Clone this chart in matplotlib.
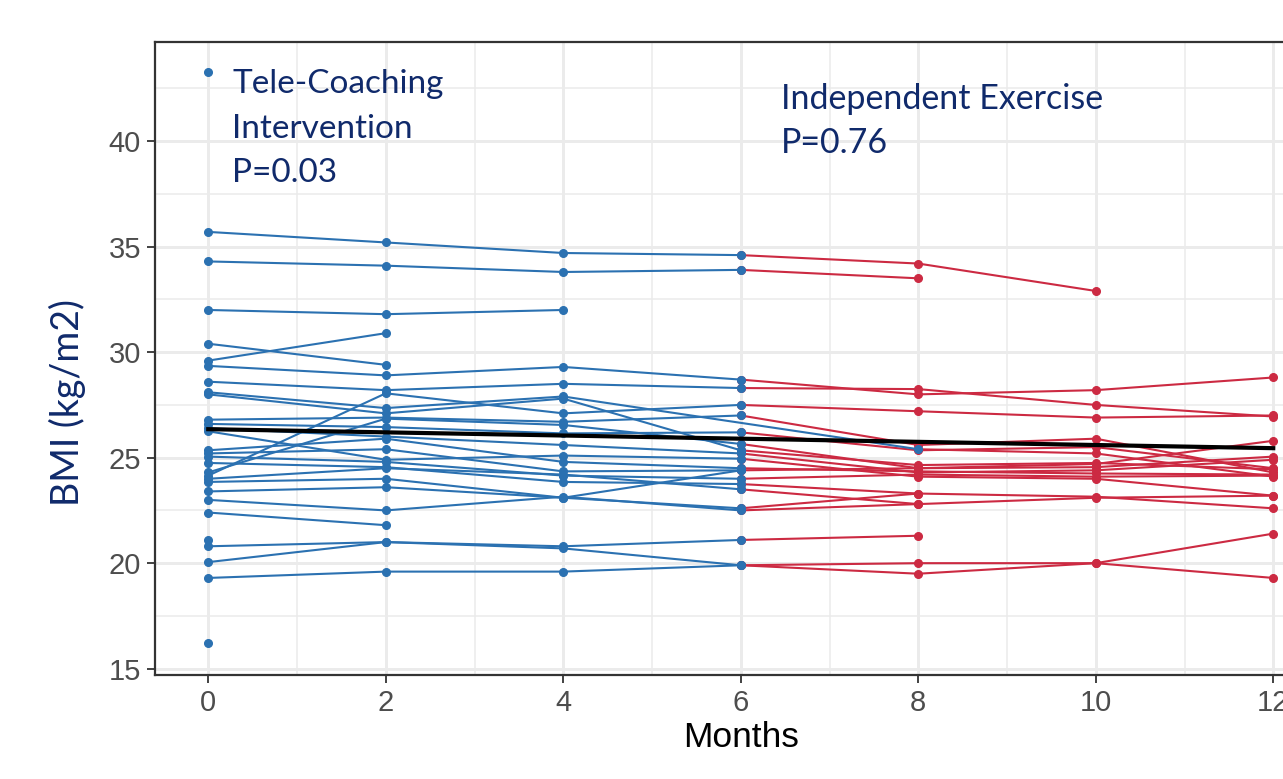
import numpy as np
import matplotlib.pyplot as plt
from matplotlib.ticker import MultipleLocator

n = np.nan
months = [0, 2, 4, 6, 8, 10, 12]

# one entry per subject, same order in every list
bmi_m0 = [43.3, 35.7, 34.3, 32.0, 30.4, 29.6, 29.35, 28.6, 28.1, 28.0, 24.15, 26.8, 26.6, 24.3, 26.4,
          26.25, 25.35, 25.2, 25.05, 24.75, 24.0, 23.85, 23.4, 23.0, 22.4, 21.1, 20.8, 20.05, 19.3, 16.2]
bmi_m2 = [n, 35.2, 34.1, 31.8, 29.4, 30.9, 28.9, 28.2, 27.35, 27.1, 28.05, 26.9, 26.45, 26.85, 26.0,
          24.9, 25.9, 25.4, 24.8, 24.55, 24.5, 24.0, 23.6, 22.5, 21.8, n, 21.0, 21.0, 19.6, n]
bmi_m4 = [n, 34.7, 33.8, 32.0, n, n, 29.3, 28.5, 27.9, 27.8, 27.1, 26.7, 26.15, 26.55, 25.6,
          25.1, 24.8, 24.35, 24.15, 23.85, 24.2, 23.1, 23.1, 23.15, n, n, 20.8, 20.7, 19.6, n]
bmi_m6 = [n, 34.6, 33.9, n, n, n, 28.7, 28.3, n, 25.35, 27.5, 27.0, 26.2, 25.65, 25.2,
          24.95, 24.5, 24.4, 24.0, 23.75, 23.5, 22.6, 24.4, 22.5, n, n, 21.1, 19.9, 19.9, n]
bmi_m8 = [n, 34.2, 33.5, n, n, n, 28.0, 28.25, 25.4, 24.65, 27.2, 25.6, 25.35, 24.5, 24.3,
          24.1, 24.35, 24.5, 24.2, 23.3, 22.8, 23.3, n, 22.8, n, n, 21.3, 20.0, 19.5, n]
bmi_m10 = [n, 32.9, n, n, n, n, 28.2, 27.5, 25.2, 24.75, 26.9, 25.9, 25.5, 24.55, 24.4,
           24.0, 24.25, 24.7, 24.1, 23.15, 23.1, n, n, n, n, n, n, 20.0, 20.0, n]
bmi_m12 = [n, n, n, n, n, n, 28.8, 26.95, 24.1, 24.45, 27.0, 24.3, 24.5, 25.05, 24.9,
           23.2, 24.2, 25.8, 24.15, 22.6, 23.2, n, n, n, n, n, n, 21.4, 19.3, n]

trend_months = [0, 12]
trend_bmi = [26.35, 25.45]

blue = '#2b71b1'
red = '#cc2a42'
navy = '#102a6b'

table = np.array([bmi_m0, bmi_m2, bmi_m4, bmi_m6, bmi_m8, bmi_m10, bmi_m12]).T
x = np.array(months)

fig = plt.figure(figsize=(12.83, 7.79), dpi=100)
# the panel runs past the right edge, as in the cropped original
ax = fig.add_axes([155 / 1283, 104 / 779, 1171.5 / 1283, 633 / 779])

for row in table:
    ok = ~np.isnan(row)
    late = ok & (x >= 6)
    if late.sum() > 0:
        ax.plot(x[late], row[late], color=red, lw=1.5, marker='o', ms=5.5, zorder=3)

for row in table:
    ok = ~np.isnan(row)
    idx = np.where(ok)[0]
    after = idx[x[idx] >= 6]
    stop = after[0] if len(after) else idx[-1]
    keep = idx[idx <= stop]
    ax.plot(x[keep], row[keep], color=blue, lw=1.5, marker='o', ms=5.5, zorder=4)

ax.plot(trend_months, trend_bmi, color='black', lw=3.0, zorder=5)

ax.set_xlim(-0.6, 12.6)
ax.set_ylim(14.7, 44.7)
ax.xaxis.set_major_locator(MultipleLocator(2))
ax.xaxis.set_minor_locator(MultipleLocator(1))
ax.set_yticks([15, 20, 25, 30, 35, 40])
ax.yaxis.set_minor_locator(MultipleLocator(2.5))
ax.grid(which='major', color='#ebebeb', lw=2.1)
ax.grid(which='minor', color='#ebebeb', lw=1.1)
ax.set_axisbelow(True)
ax.tick_params(which='minor', length=0)
ax.tick_params(which='major', length=6, width=1.3, color='#333333',
               labelsize=21, labelcolor='#4d4d4d', pad=4)
for lab in ax.get_xticklabels() + ax.get_yticklabels():
    lab.set_family('Liberation Sans')
for s in ax.spines.values():
    s.set_color('#333333')
    s.set_linewidth(1.6)

ax.set_xlabel('Months', fontsize=25.5, family='Liberation Sans', labelpad=3)

fig.text(67 / 1283, 1 - 402 / 779, 'BMI (kg/m2)', rotation=90, ha='center', va='center',
         fontsize=27, family='Lato', color=navy)
ax.text(0.27, 43.4, 'Tele-Coaching\nIntervention\nP=0.03', ha='left', va='top',
        fontsize=24, family='Lato', color=navy, linespacing=1.6)
ax.text(6.45, 42.75, 'Independent Exercise\nP=0.76', ha='left', va='top',
        fontsize=24.5, family='Lato', color=navy, linespacing=1.47)

fig.savefig('out.png', dpi=100)
